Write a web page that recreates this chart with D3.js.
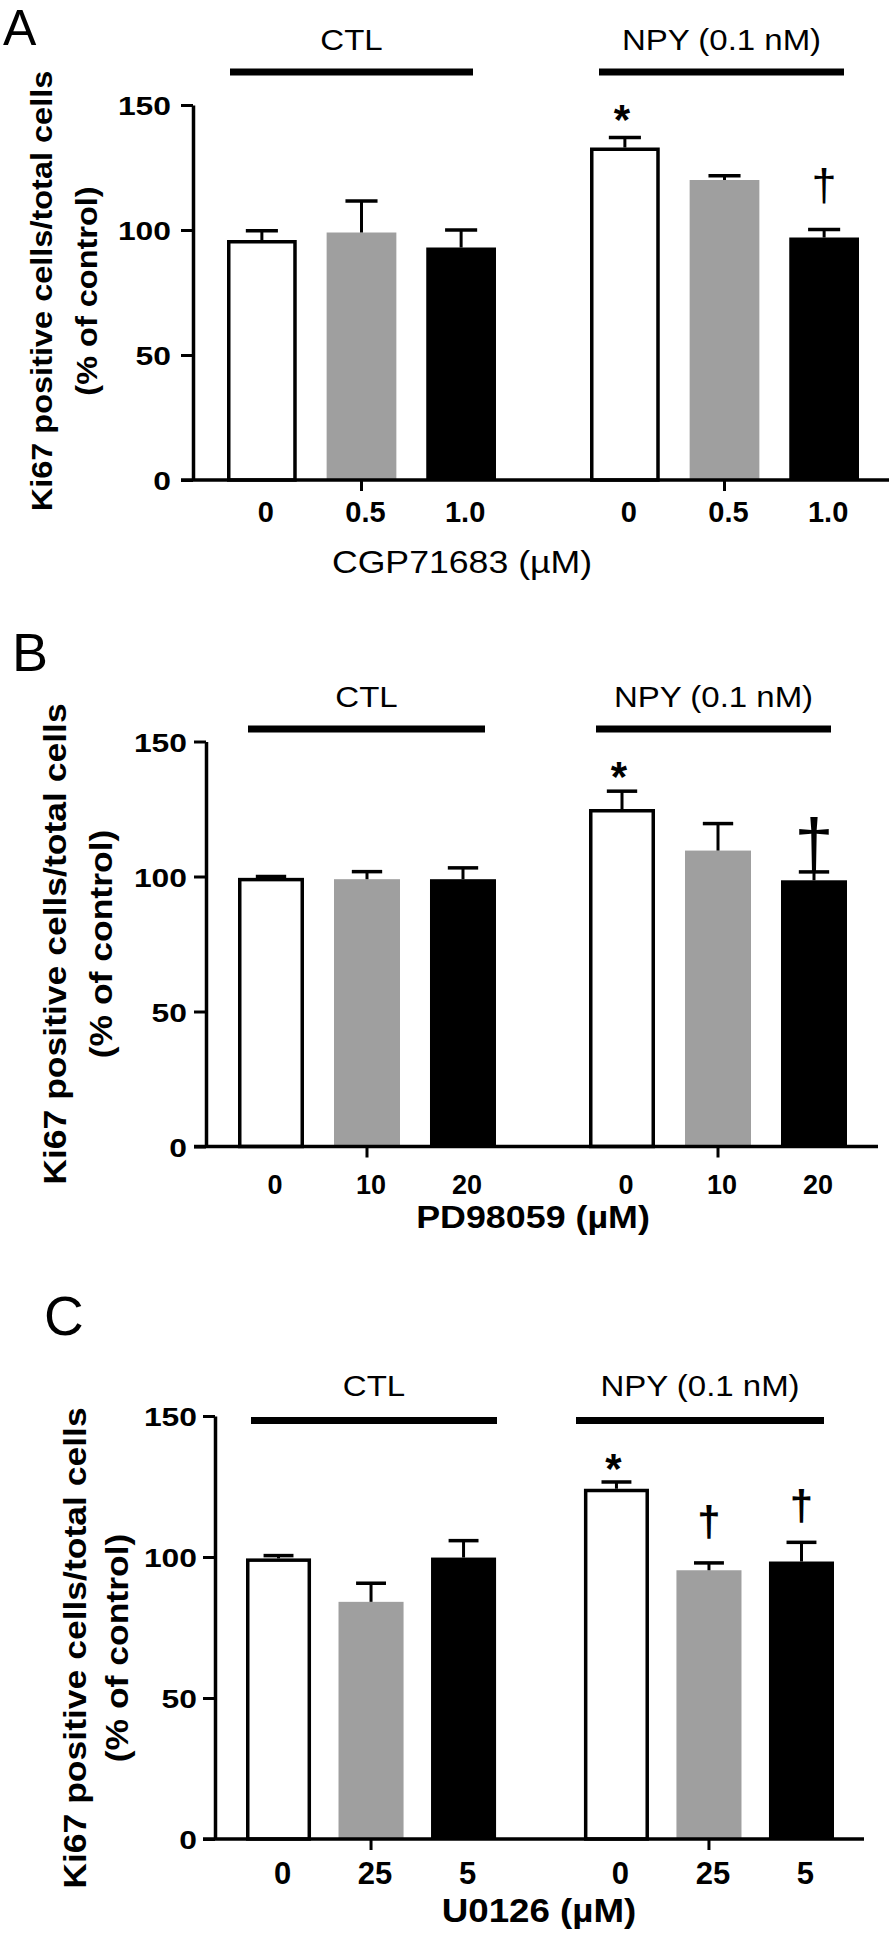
<!DOCTYPE html>
<html><head><meta charset="utf-8">
<script src="https://cdn.jsdelivr.net/npm/d3@7"></script>
<style>
body{margin:0;background:#fff}
svg{display:block}
text{font-family:"Liberation Sans",Arial,Helvetica,sans-serif;fill:#000}
</style>
</head><body>
<svg id="c" width="894" height="1941"></svg>
<script>
// ---------- data ----------
const groups = ["CTL", "NPY (0.1 nM)"];
const doseIndex = [0, 1, 2];
const barFills = ["#ffffff", "#9f9f9f", "#000000"];
const yTickValues = [0, 50, 100, 150];
const yTitleLines = ["Ki67 positive cells/total cells", "(% of control)"];

const tickLabelsA = ["0", "0.5", "1.0", "0", "0.5", "1.0"];
const meansA = [96, 99, 93, 133, 120, 97];
const errA = [3.7, 12.6, 7, 4, 1.7, 3.2];
const marksA = ["", "", "", "*", "", "†"];

const tickLabelsB = ["0", "10", "20", "0", "10", "20"];
const meansB = [99.5, 99, 99, 125, 109.6, 98.6];
const errB = [0.5, 2.8, 4.2, 6.6, 10, 3.1];
const marksB = ["", "", "", "*", "", "†"];

const tickLabelsC = ["0", "25", "5", "0", "25", "5"];
const meansC = [99.5, 84.1, 99.8, 124.2, 95.3, 98.4];
const errC = [1, 6.6, 6, 2.4, 2.6, 6.8];
const marksC = ["", "", "", "*", "†", "†"];

// ---------- layout ----------
const panels = [
  {letter:"A", letterSize:50, letterX:3, letterY:45,
   labels:tickLabelsA, means:meansA, errs:errA, marks:marksA,
   markGap:[0,0,0,4,0,30], starSize:42, daggerSize:45, daggerW:"normal",
   title:"CGP71683 (µM)", titleW:"normal", titleSize:31, titleSx:1.15, titleX:462, titleY:573,
   axisX:193, yTop:105, yZero:480, xEnd:889, barRange:[227,859], groupPad:0.259, barPad:0.3,
   labelY:50, lineY:72, lines:[[230,473],[599,844]],
   tickLabelY:522, tickSize:29, yTickGap:22,
   yTitleX:[52,97], yTitleY:291, yTitleSize:32.5},
  {letter:"B", letterSize:54, letterX:12, letterY:671,
   labels:tickLabelsB, means:meansB, errs:errB, marks:marksB,
   markGap:[0,0,0,0,0,4], starSize:42, daggerSize:70, daggerW:"normal",
   title:"PD98059 (µM)", titleW:"bold", titleSize:32, titleSx:1.12, titleX:533, titleY:1228,
   axisX:206, yTop:741.5, yZero:1146.5, xEnd:878, barRange:[238,847], groupPad:0.265, barPad:0.3125,
   labelY:707, lineY:729, lines:[[248,485],[596,831]],
   tickLabelY:1194, tickSize:27, yTickGap:19,
   yTitleX:[66,112], yTitleY:944, yTitleSize:35.5},
  {letter:"C", letterSize:55, letterX:44, letterY:1335,
   labels:tickLabelsC, means:meansC, errs:errC, marks:marksC,
   markGap:[0,0,0,-1,27,22], starSize:42, daggerSize:42, daggerW:"bold",
   title:"U0126 (µM)", titleW:"bold", titleSize:34, titleSx:1.08, titleX:539, titleY:1922,
   axisX:215, yTop:1416, yZero:1839, xEnd:864, barRange:[246,834], groupPad:0.26, barPad:0.297,
   labelY:1396, lineY:1420.6, lines:[[251,497],[576,824]],
   tickLabelY:1884, tickSize:31, yTickGap:18,
   yTitleX:[86,128], yTitleY:1648, yTitleSize:35.5}
];

const svg = d3.select("#c");
svg.append("rect").attr("width", 894).attr("height", 1941).attr("fill", "#fff");

function txt(parent, str, x, y, size, weight, sx, anchor) {
  return parent.append("text")
    .attr("transform", `translate(${x},${y}) scale(${sx},1)`)
    .attr("text-anchor", anchor)
    .style("font-size", size + "px")
    .style("font-weight", weight)
    .text(str);
}

panels.forEach(p => {
  const g = svg.append("g");
  const y = d3.scaleLinear().domain([0, 150]).range([p.yZero, p.yTop]);
  const outer = d3.scaleBand().domain(groups).range(p.barRange).paddingInner(p.groupPad).paddingOuter(0);
  const inner = d3.scaleBand().domain(doseIndex).range([0, outer.bandwidth()]).paddingInner(p.barPad).paddingOuter(0);
  const data = p.means.map((m, i) => ({
    group: groups[Math.floor(i / 3)], dose: i % 3, mean: m, err: p.errs[i],
    label: p.labels[i], mark: p.marks[i], gap: p.markGap[i]
  }));
  const bx = d => outer(d.group) + inner(d.dose);
  const xc = d => bx(d) + inner.bandwidth() / 2;
  const bw = inner.bandwidth();
  const sw = 3.5;

  // panel letter
  txt(g, p.letter, p.letterX, p.letterY, p.letterSize, "normal", 1, "start");

  // bars
  g.selectAll("rect.bar").data(data).join("rect")
    .attr("class", "bar")
    .attr("x", d => d.dose === 0 ? bx(d) + sw / 2 : bx(d))
    .attr("width", d => d.dose === 0 ? bw - sw : bw)
    .attr("y", d => y(d.mean) + (d.dose === 0 ? sw / 2 : 0))
    .attr("height", d => y(0) - y(d.mean) - (d.dose === 0 ? sw / 2 : 0))
    .attr("fill", d => barFills[d.dose])
    .attr("stroke", d => d.dose === 0 ? "#000" : "none")
    .attr("stroke-width", sw);

  // error bars (upper)
  const capW = bw * 0.46;
  g.selectAll("line.err").data(data).join("line")
    .attr("class", "err")
    .attr("x1", xc).attr("x2", xc)
    .attr("y1", d => y(d.mean)).attr("y2", d => y(d.mean + d.err))
    .attr("stroke", "#000").attr("stroke-width", 3);
  g.selectAll("line.cap").data(data).join("line")
    .attr("class", "cap")
    .attr("x1", d => xc(d) - capW / 2).attr("x2", d => xc(d) + capW / 2)
    .attr("y1", d => y(d.mean + d.err)).attr("y2", d => y(d.mean + d.err))
    .attr("stroke", "#000").attr("stroke-width", 3.5);

  // y axis
  const yAxis = d3.axisLeft(y).tickValues(yTickValues).tickSize(12).tickSizeOuter(0).tickPadding(0);
  const ya = g.append("g").attr("transform", `translate(${p.axisX},0)`).call(yAxis);
  ya.select(".domain").attr("stroke", "#000").attr("stroke-width", 3.5);
  ya.selectAll(".tick line").attr("stroke", "#000").attr("stroke-width", 3);
  ya.selectAll(".tick text")
    .attr("x", null).attr("dy", null)
    .attr("transform", `translate(${-p.yTickGap},9.5) scale(1.2,1)`)
    .attr("text-anchor", "end")
    .style("font-size", "26.5px").style("font-weight", "bold")
    .style("font-family", '"Liberation Sans",Arial,sans-serif').attr("fill", "#000");

  // x axis line
  g.append("line").attr("x1", p.axisX - 12).attr("x2", p.xEnd)
    .attr("y1", y(0)).attr("y2", y(0)).attr("stroke", "#000").attr("stroke-width", 3.5);
  // x ticks at middle bar of each group
  g.selectAll("line.xt").data(data.filter(d => d.dose === 1)).join("line")
    .attr("class", "xt")
    .attr("x1", xc).attr("x2", xc)
    .attr("y1", y(0)).attr("y2", y(0) + 11)
    .attr("stroke", "#000").attr("stroke-width", 3);
  // x tick labels
  data.forEach(d => txt(g, d.label, xc(d) + 4, p.tickLabelY, p.tickSize, "bold", 1, "middle"));

  // x title
  txt(g, p.title, p.titleX, p.titleY, p.titleSize, p.titleW, p.titleSx, "middle");

  // group lines and labels
  groups.forEach((gr, i) => {
    const [x1, x2] = p.lines[i];
    g.append("line").attr("x1", x1).attr("x2", x2).attr("y1", p.lineY).attr("y2", p.lineY)
      .attr("stroke", "#000").attr("stroke-width", 7);
    txt(g, gr, (x1 + x2) / 2, p.labelY, 30, "normal", 1.1, "middle");
  });

  // significance marks
  data.filter(d => d.mark).forEach(d => {
    const isStar = d.mark === "*";
    txt(g, d.mark, xc(d) - (isStar ? 3 : 0), y(d.mean + d.err) - d.gap,
        isStar ? p.starSize : p.daggerSize, isStar ? "bold" : p.daggerW, 1, "middle");
  });

  // y title
  yTitleLines.forEach((line, i) => {
    g.append("text")
      .attr("transform", `translate(${p.yTitleX[i]},${p.yTitleY}) scale(0.9,1) rotate(-90)`)
      .attr("text-anchor", "middle")
      .style("font-size", p.yTitleSize + "px").style("font-weight", "bold")
      .text(line);
  });
});
</script>
</body></html>
